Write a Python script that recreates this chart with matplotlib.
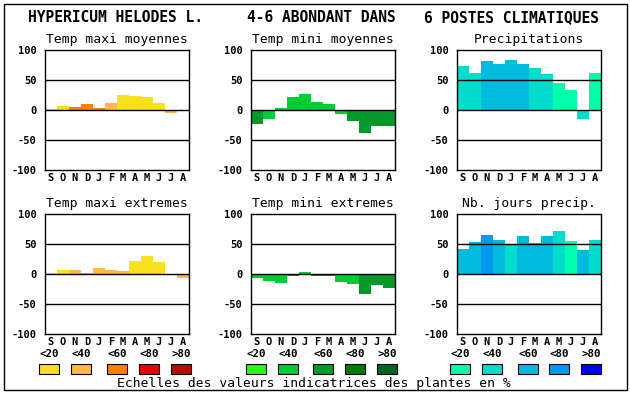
import matplotlib
matplotlib.use('Agg')

import matplotlib.pyplot as plt
from matplotlib.patches import Rectangle
import numpy as np

W, H = 630, 394

months = ["S", "O", "N", "D", "J", "F", "M", "A", "M", "J", "J", "A"]
scale_labels = ["<20", "<40", "<60", "<80", ">80"]

# colour scales (classes 0..4)
warm = ["#f8e01c", "#ffb84c", "#ff8000", "#ee0000", "#b01000"]
green = ["#1eff1e", "#00cc33", "#00992a", "#007a00", "#006622"]
blue = ["#00ffaa", "#00ddcc", "#00bbdd", "#0099ee", "#0000ff"]

# values per month and their class in the colour scale
tmax_moy = [2, 7, 5, 10.5, 3, 12, 25.5, 24, 22, 12, -4.5, 0]
tmax_moy_cls = [0, 0, 2, 2, 2, 1, 0, 0, 0, 0, 1, 0]

tmin_moy = [-23, -14.5, 3, 22, 27, 13, 10, -6, -18, -38, -26, -26]
tmin_moy_cls = [2, 1, 1, 1, 1, 1, 1, 1, 2, 2, 2, 2]

precip = [73, 62, 82, 77, 83, 77, 70, 60, 45, 33, -14.5, 62]
precip_cls = [1, 1, 2, 2, 2, 2, 1, 1, 0, 0, 1, 0]

tmax_ext = [2, 7, 7, 2, 10, 7, 5, 22, 30, 20, 0, -6]
tmax_ext_cls = [0, 0, 1, 1, 1, 1, 1, 0, 0, 0, 0, 1]

tmin_ext = [-6, -11, -14.5, -3, 3, -4, -4, -13, -16, -33, -18, -24]
tmin_ext_cls = [1, 1, 1, 2, 1, 2, 2, 1, 1, 2, 2, 2]

jours = [42, 53, 65, 57, 50, 63, 52, 63, 72, 55, 40, 57]
jours_cls = [2, 2, 3, 2, 1, 2, 2, 2, 1, 0, 2, 1]

panels = [
    ("Temp maxi moyennes", tmax_moy, tmax_moy_cls, warm),
    ("Temp mini moyennes", tmin_moy, tmin_moy_cls, green),
    ("Precipitations", precip, precip_cls, blue),
    ("Temp maxi extremes", tmax_ext, tmax_ext_cls, warm),
    ("Temp mini extremes", tmin_ext, tmin_ext_cls, green),
    ("Nb. jours precip.", jours, jours_cls, blue),
]

mono = "DejaVu Sans Mono"
fig = plt.figure(figsize=(W / 100, H / 100), dpi=100)


def fx(x):
    return x / W


def fy(y):
    return 1 - y / H


lefts = [45, 251, 457]
tops = [50, 214]
aw, ah = 144, 120

for i, (title, vals, cls, pal) in enumerate(panels):
    left = lefts[i % 3]
    top = tops[i // 3]
    ax = fig.add_axes([fx(left), fy(top + ah), aw / W, ah / H])
    x = np.arange(len(months))
    ax.bar(x, vals, width=1, align='edge', color=[pal[c] for c in cls],
           linewidth=0, zorder=1)
    for yv in (-50, 0, 50):
        ax.axhline(yv, color='black', lw=1.0, zorder=3)
    ax.set_xlim(0, 12)
    ax.set_ylim(-100, 100)
    ax.set_xticks(x + 0.5)
    ax.set_xticklabels(months, fontfamily=mono, fontweight='bold', fontsize=7.5)
    ax.set_yticks([-100, -50, 0, 50, 100])
    ax.set_yticklabels(["-100", "-50", "0", "50", "100"], fontfamily=mono,
                       fontweight='bold', fontsize=7.5)
    ax.tick_params(length=0, pad=2.5)
    ax.tick_params(axis='y', pad=6)
    for s in ax.spines.values():
        s.set_linewidth(1.0)
    fig.text(fx(left + aw / 2), fy(top - 11), title, ha='center', va='center',
             fontfamily=mono, fontsize=9.4)

# header
fig.text(fx(115), fy(18), "HYPERICUM HELODES L.", ha='center', va='center',
         fontfamily=mono, fontweight='bold', fontsize=10.5)
fig.text(fx(321), fy(18), "4-6 ABONDANT DANS", ha='center', va='center',
         fontfamily=mono, fontweight='bold', fontsize=10.5)
fig.text(fx(512), fy(18), "6 POSTES CLIMATIQUES", ha='center', va='center',
         fontfamily=mono, fontweight='bold', fontsize=10.5)

# colour scale legends
legend_x = [[39, 71, 107, 139, 171], [246, 278, 313, 345, 377],
            [450, 482, 518, 549, 581]]
for pal, xs in zip([warm, green, blue], legend_x):
    for c, lab, x0 in zip(pal, scale_labels, xs):
        fig.text(fx(x0 + 10), fy(354), lab, ha='center', va='center',
                 fontfamily=mono, fontweight='bold', fontsize=7.8)
        fig.patches.append(Rectangle((fx(x0), fy(374)), 20 / W, 10 / H,
                                     facecolor=c, edgecolor='black', lw=0.8,
                                     transform=fig.transFigure, figure=fig))

fig.text(fx(314), fy(383), "Echelles des valeurs indicatrices des plantes en %",
         ha='center', va='center', fontfamily=mono, fontsize=9.4)

# outer frame
fig.patches.append(Rectangle((fx(4), fy(390)), 623 / W, 386 / H, fill=False,
                             edgecolor='black', lw=1.0,
                             transform=fig.transFigure, figure=fig))

plt.savefig("out.png", dpi=100)
plt.close()
